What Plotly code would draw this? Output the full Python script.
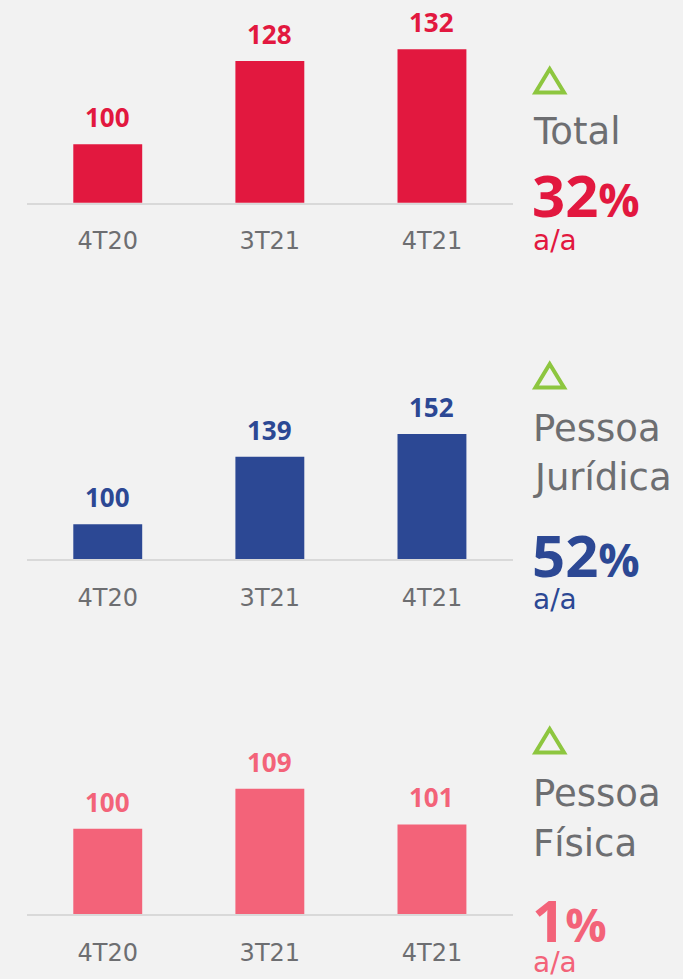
import plotly.graph_objects as go

W, H = 683, 979

categories = ["4T20", "3T21", "4T21"]
total_values = [100, 128, 132]
pj_values = [100, 139, 152]
pf_values = [100, 109, 101]

panel_titles = [["Total"], ["Pessoa", "Jurídica"], ["Pessoa", "Física"]]
panel_growth = ["32", "52", "1"]
growth_suffix = "a/a"

colors = ["#E2183F", "#2C4894", "#F36379"]
GRAY = "#6D6E71"
GREEN = "#8DC63F"
BG = "#F2F2F2"
FONT = "Open Sans"
FONT_REG = "DejaVu Sans"

series = [total_values, pj_values, pf_values]

# layout per panel (pixel positions)
panels = [
    dict(base=202.7, top=0, r0=80.3, scale=2.97,
         title_base=[145], pct_base=217, aa_base=250.7, tri=(92.5, 69)),
    dict(base=559.0, top=380, r0=80.0, scale=1.735,
         title_base=[441.7, 491], pct_base=576.7, aa_base=610, tri=(387.5, 364)),
    dict(base=914.3, top=740, r0=80.8, scale=4.45,
         title_base=[807, 857], pct_base=941.7, aa_base=973, tri=(752.5, 729)),
]

def py(p):
    return 1 - p / H

def px(p):
    return p / W

fig = go.Figure()
annotations = []
shapes = []
xdom = [px(26.7), px(513)]

for i, (vals, pnl, col) in enumerate(zip(series, panels, colors)):
    k = "" if i == 0 else str(i + 1)
    fig.add_trace(go.Bar(
        x=categories, y=vals, marker=dict(color=col, line=dict(width=0)),
        width=0.425, xaxis="x" + k, yaxis="y" + k, showlegend=False,
        hoverinfo="x+y",
    ))
    rtop = pnl["r0"] + (pnl["base"] - pnl["top"]) / pnl["scale"]
    fig.layout["xaxis" + k] = dict(
        domain=xdom, anchor="y" + k, range=[-0.5, 2.5], type="category",
        showline=True, linecolor="#D9D9D9", linewidth=1.5,
        showgrid=False, zeroline=False, ticks="",
        tickfont=dict(family=FONT_REG, size=24, color=GRAY),
        ticklabelstandoff=16, fixedrange=True,
    )
    fig.layout["yaxis" + k] = dict(
        domain=[py(pnl["base"]), py(pnl["top"])], anchor="x" + k,
        range=[pnl["r0"], rtop], visible=False, fixedrange=True,
    )
    # value labels
    for c, v in zip(categories, vals):
        annotations.append(dict(
            x=c, y=v, xref="x" + k, yref="y" + k, text=f"<b>{v}</b>",
            showarrow=False, yanchor="bottom", xanchor="center", yshift=7,
            font=dict(family=FONT, size=26, color=col),
        ))
    # titles
    for t, b in zip(panel_titles[i], pnl["title_base"]):
        annotations.append(dict(
            x=px(531), y=py(b - 0.36 * 37), xref="paper", yref="paper",
            text=t, showarrow=False, xanchor="left", yanchor="middle",
            font=dict(family=FONT_REG, size=37, color=GRAY),
        ))
    annotations.append(dict(
        x=px(530), y=py(pnl["pct_base"] - 0.388 * 58), xref="paper", yref="paper",
        text=f"<b>{panel_growth[i]}</b><span style='font-size:46px'><b>%</b></span>",
        showarrow=False, xanchor="left", yanchor="middle",
        font=dict(family=FONT, size=58, color=col),
    ))
    annotations.append(dict(
        x=px(531), y=py(pnl["aa_base"] - 0.36 * 28), xref="paper", yref="paper",
        text=growth_suffix, showarrow=False, xanchor="left", yanchor="middle",
        font=dict(family=FONT_REG, size=28, color=col),
    ))
    yb, yt = pnl["tri"]
    shapes.append(dict(
        type="path", xref="paper", yref="paper",
        path=f"M {px(535.5)} {py(yb)} L {px(564)} {py(yb)} L {px(549.7)} {py(yt)} Z",
        line=dict(color=GREEN, width=4), fillcolor="rgba(0,0,0,0)",
    ))

fig.update_layout(
    width=W, height=H, margin=dict(l=0, r=0, t=0, b=0),
    paper_bgcolor=BG, plot_bgcolor=BG,
    annotations=annotations, shapes=shapes,
    bargap=0.575, font=dict(family=FONT),
)

fig.write_html("out.html", config={"displayModeBar": False},
               post_script="document.body.style.margin='0';document.body.style.background='#F2F2F2';")
